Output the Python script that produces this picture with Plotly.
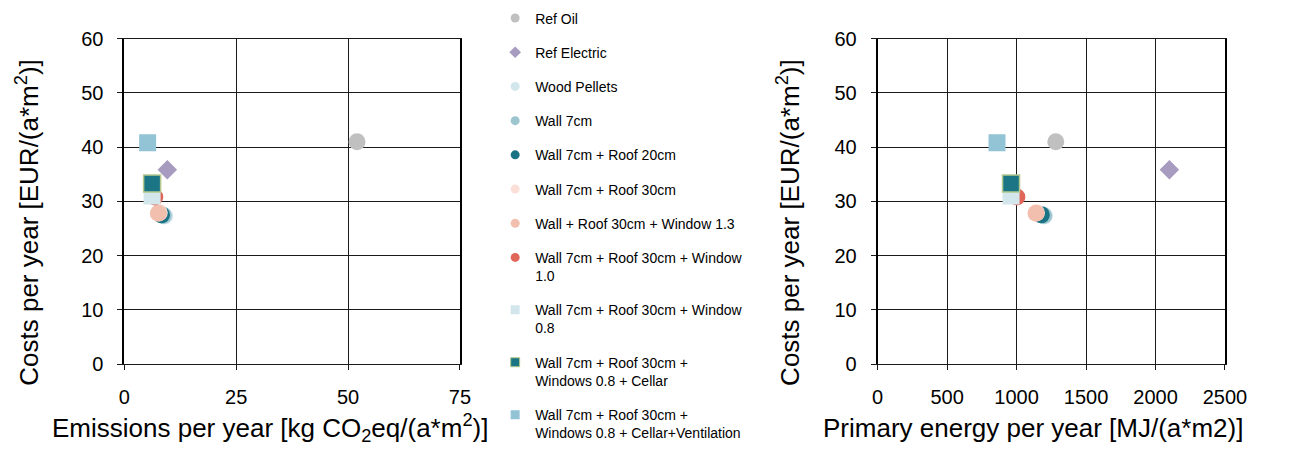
import plotly.graph_objects as go

names = ["Ref Oil", "Ref Electric", "Wood Pellets", "Wall 7cm", "Wall 7cm + Roof 20cm",
         "Wall 7cm + Roof 30cm", "Wall + Roof 30cm + Window 1.3",
         "Wall 7cm + Roof 30cm + Window<br>1.0", "Wall 7cm + Roof 30cm + Window<br>0.8",
         "Wall 7cm + Roof 30cm +<br>Windows 0.8 + Cellar",
         "Wall 7cm + Roof 30cm +<br>Windows 0.8 + Cellar+Ventilation"]
emissions = [52.0, 9.6, 9.0, 8.7, 8.3, 7.8, 7.6, 6.8, 6.2, 6.2, 5.2]
primary_energy = [1282, 2100, 1200, 1195, 1178, 1143, 1140, 1002, 960, 960, 859]
costs = [41.0, 35.8, 27.3, 27.4, 27.5, 27.9, 27.8, 30.8, 31.0, 33.3, 40.8]
colors = ["#c0c0c0", "#a79bbf", "#d2e7ec", "#9cc5cf", "#1a7384", "#fbe0d8",
          "#f2bfae", "#e0665a", "#d3e6ec", "#1b7585", "#92c4d6"]
symbols = ["circle", "diamond", "circle", "circle", "circle", "circle", "circle",
           "circle", "square", "square", "square"]
line_colors = [None] * 9 + ["#b5c98e", None]

FONT = "Liberation Sans, Arial, sans-serif"
fig = go.Figure()

for i, n in enumerate(names):
    lc = line_colors[i]
    mk = dict(color=colors[i], symbol=symbols[i], size=17 if symbols[i] != "diamond" else 15,
              line=dict(color=lc if lc else colors[i], width=1.5 if lc else 0))
    fig.add_trace(go.Scatter(x=[emissions[i]], y=[costs[i]], mode="markers", marker=mk,
                             xaxis="x", yaxis="y", showlegend=False, hoverinfo="skip"))
    fig.add_trace(go.Scatter(x=[primary_energy[i]], y=[costs[i]], mode="markers", marker=mk,
                             xaxis="x2", yaxis="y2", showlegend=False, hoverinfo="skip"))
    # legend-only entry with smaller marker
    lmk = dict(color=colors[i], symbol=symbols[i], size=9,
               line=dict(color=lc if lc else colors[i], width=1 if lc else 0))
    fig.add_trace(go.Scatter(x=[None], y=[None], mode="markers", marker=lmk, name=n,
                             legendgroup=f"g{i}", xaxis="x", yaxis="y", showlegend=True))

ax_common = dict(showgrid=True, gridcolor="#1a1a1a", gridwidth=1, zeroline=False,
                 ticks="outside", ticklen=5, tickcolor="#1a1a1a",
                 tickfont=dict(size=20, family=FONT, color="#000"),
                 showline=True, linecolor="#1a1a1a", linewidth=1, mirror=True)
yax = dict(ax_common, range=[0, 60], dtick=10, ticklabelstandoff=10,
           linecolor="#000", linewidth=2)
xax = dict(ax_common, ticklabelstandoff=10)

TITLE_FONT = dict(size=26, family=FONT, color="#000")
titles = [
    dict(text="Emissions per year [kg CO<sub>2</sub>eq/(a*m<sup>2</sup>)]", x=270/1291, y=1 - 438/454, textangle=0),
    dict(text="Primary energy per year [MJ/(a*m2)]", x=1050/1291, y=1 - 438/454, textangle=0),
    dict(text="Costs per year [EUR/(a*m<sup>2</sup>)]", x=22/1291, y=1 - 222/454, textangle=-90),
    dict(text="Costs per year [EUR/(a*m<sup>2</sup>)]", x=800/1291, y=1 - 222/454, textangle=-90),
]
annotations = [dict(a, xref="paper", yref="paper", xanchor="center", yanchor="middle",
                    showarrow=False, font=TITLE_FONT) for a in titles]

fig.update_layout(
    width=1291, height=454, margin=dict(l=0, r=0, t=0, b=0),
    paper_bgcolor="white", plot_bgcolor="white",
    font=dict(family=FONT, color="#000"),
    xaxis=dict(xax, domain=[121/1291, 464/1291], range=[0, 75], tickvals=[0, 25, 50, 75]),
    yaxis=dict(yax, domain=[(454-371)/454, (454-29)/454], anchor="x"),
    xaxis2=dict(xax, domain=[891/1291, 1246/1291], range=[0, 2500], dtick=500, anchor="y2"),
    yaxis2=dict(yax, domain=[(454-371)/454, (454-29)/454], anchor="x2"),
    annotations=annotations,
    legend=dict(x=500/1291, y=1 + 9/454, xanchor="left", yanchor="top", maxheight=470,
                font=dict(size=14, family=FONT, color="#000"),
                tracegroupgap=13, traceorder="grouped", valign="top",
                bgcolor="rgba(0,0,0,0)"),
)

fig.write_html("out.html")
